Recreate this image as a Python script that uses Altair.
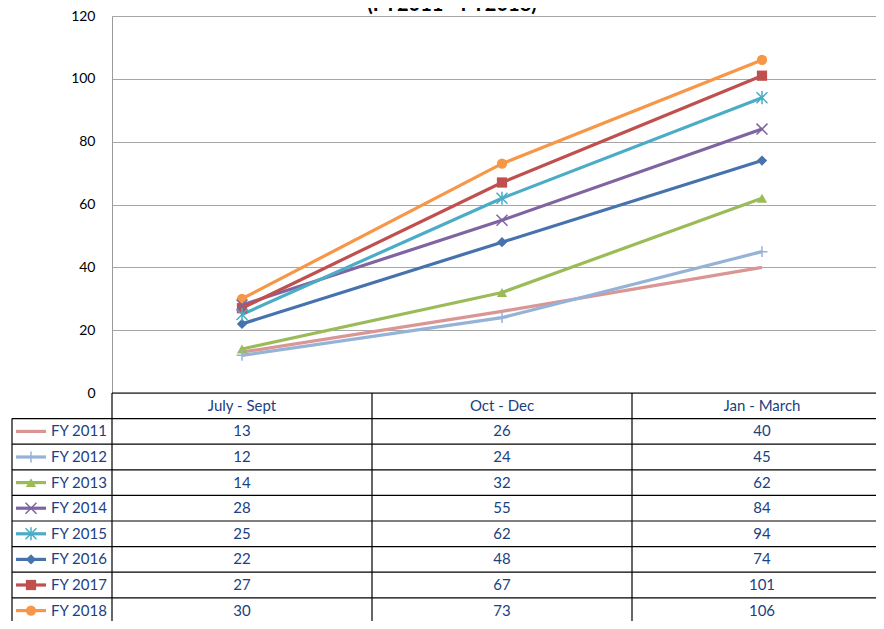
import altair as alt
import pandas as pd

quarters = ["July - Sept", "Oct - Dec", "Jan - March"]
series = ["FY 2011", "FY 2012", "FY 2013", "FY 2014", "FY 2015", "FY 2016", "FY 2017", "FY 2018"]
values = {
    "FY 2011": [13, 26, 40],
    "FY 2012": [12, 24, 45],
    "FY 2013": [14, 32, 62],
    "FY 2014": [28, 55, 84],
    "FY 2015": [25, 62, 94],
    "FY 2016": [22, 48, 74],
    "FY 2017": [27, 67, 101],
    "FY 2018": [30, 73, 106],
}
colors = ["#D99694", "#95B3D7", "#9BBB59", "#8064A2", "#4BACC6", "#4672AE", "#C0504D", "#F79646"]
PLUS = "M-1,0L1,0M0,-1L0,1"
XMARK = "M-1,-1L1,1M-1,1L1,-1"
STAR = "M-1,-1L1,1M-1,1L1,-1M0,-1.2L0,1.2"
shapes = ["circle", PLUS, "triangle-up", XMARK, STAR, "diamond", "square", "circle"]
filled_series = ["FY 2013", "FY 2016", "FY 2017", "FY 2018"]
open_series = ["FY 2012", "FY 2014", "FY 2015"]
title_text = "(FY2011 - FY2018)"

rows = []
for s in series:
    for q, v in zip(quarters, values[s]):
        rows.append({"series": s, "quarter": q, "value": v})
df = pd.DataFrame(rows)

W_RANGE = 780
PLOT_W = 764
PLOT_H = 377
ROW_H = 25.6
row_domain = ["header"] + series
row_range = [PLOT_H, PLOT_H + ROW_H * len(row_domain)]
TXT = "#203F7F"
FONT = "Lato"

xscale = alt.Scale(domain=quarters, range=[0, W_RANGE], paddingInner=0, paddingOuter=0)
cscale = alt.Scale(domain=series, range=colors)
sscale = alt.Scale(domain=series, range=shapes)
rscale = alt.Scale(domain=row_domain, range=row_range, paddingInner=0, paddingOuter=0)

X = alt.X("quarter:N", scale=xscale, axis=None, sort=quarters)
Y = alt.Y("value:Q", scale=alt.Scale(domain=[0, 120], nice=False),
          axis=alt.Axis(values=[0, 20, 40, 60, 80, 100, 120], title=None, ticks=False,
                        labelPadding=17, labelFont=FONT, labelFontSize=14, labelColor="#000000",
                        domainColor="#9a9a9a", gridColor="#a6a6a6", gridWidth=1, grid=True))
C = alt.Color("series:N", scale=cscale, legend=None, sort=series)
S = alt.Shape("series:N", scale=sscale, legend=None, sort=series)

base = alt.Chart(df)
lines = base.mark_line(strokeWidth=3.2).encode(x=X, y=Y, color=C, detail="series:N")
pts_f = base.transform_filter(alt.FieldOneOfPredicate(field="series", oneOf=filled_series)).mark_point(
    filled=True, size=105, opacity=1).encode(x=X, y=Y, color=C, shape=S)
pts_o = base.transform_filter(alt.FieldOneOfPredicate(field="series", oneOf=open_series)).mark_point(
    filled=False, size=120, strokeWidth=1.5, opacity=1).encode(x=X, y=Y, color=C, shape=S)
title = alt.Chart(pd.DataFrame({"t": [title_text]})).mark_text(
    font=FONT, fontSize=20, fontWeight="bold", color="#000000", align="center", baseline="alphabetic"
).encode(text="t:N", x=alt.value(340), y=alt.value(-5))

plot = alt.layer(lines, pts_f, pts_o, title)

# table
def RY(bp=None):
    kw = {"bandPosition": bp} if bp is not None else {}
    return alt.Y("row:N", scale=rscale, axis=None, sort=row_domain, **kw)

rows_df = pd.DataFrame({"row": series})
hlines = alt.Chart(rows_df).mark_rule(color="#000000", strokeWidth=1.2).encode(
    y=RY(0), x=alt.value(-100), x2=alt.value(W_RANGE))
top_line = alt.Chart(pd.DataFrame({"row": ["header"]})).mark_rule(color="#000000", strokeWidth=1.2).encode(
    y=RY(0), x=alt.value(0), x2=alt.value(W_RANGE))
qdf = pd.DataFrame({"quarter": quarters, "row": ["header"] * 3})
vlines = alt.Chart(qdf).mark_rule(color="#000000", strokeWidth=1.2).encode(
    x=alt.X("quarter:N", scale=xscale, axis=None, sort=quarters, bandPosition=0),
    y=alt.value(PLOT_H), y2=alt.value(PLOT_H + 260))
left_line = alt.Chart(pd.DataFrame({"row": ["FY 2011"]})).mark_rule(color="#000000", strokeWidth=1.2).encode(
    x=alt.value(-100), y=RY(0), y2=alt.value(PLOT_H + 260))
header_txt = alt.Chart(qdf).mark_text(font=FONT, fontSize=15, color=TXT, baseline="middle").encode(
    x=X, y=RY(), text="quarter:N")
val_df = df.rename(columns={"series": "row"})
val_txt = alt.Chart(val_df).mark_text(font=FONT, fontSize=15, color=TXT, baseline="middle").encode(
    x=X, y=RY(), text="value:Q")
lab_df = pd.DataFrame({"row": series, "series": series})
lab_txt = alt.Chart(lab_df).mark_text(font=FONT, fontSize=15, color=TXT, baseline="middle", align="left").encode(
    x=alt.value(-61), y=RY(), text="row:N")
key_rule = alt.Chart(lab_df).mark_rule(strokeWidth=3.2).encode(
    x=alt.value(-96), x2=alt.value(-66), y=RY(), color=C)
key_f = alt.Chart(lab_df).transform_filter(alt.FieldOneOfPredicate(field="series", oneOf=filled_series)).mark_point(
    filled=True, size=105, opacity=1).encode(x=alt.value(-81), y=RY(), color=C, shape=S)
key_o = alt.Chart(lab_df).transform_filter(alt.FieldOneOfPredicate(field="series", oneOf=open_series)).mark_point(
    filled=False, size=120, strokeWidth=1.5, opacity=1).encode(x=alt.value(-81), y=RY(), color=C, shape=S)

table = alt.layer(hlines, top_line, vlines, left_line, header_txt, val_txt, lab_txt, key_rule, key_f, key_o)

chart = alt.layer(plot, table).resolve_scale(y="independent").properties(
    width=PLOT_W, height=PLOT_H,
    autosize=alt.AutoSizeParams(type="none"),
    padding={"left": 104, "top": 8, "right": 0, "bottom": 228},
).configure_view(stroke=None).configure(background="white")

chart.save("out.html", embed_options={"renderer": "svg", "actions": False})
